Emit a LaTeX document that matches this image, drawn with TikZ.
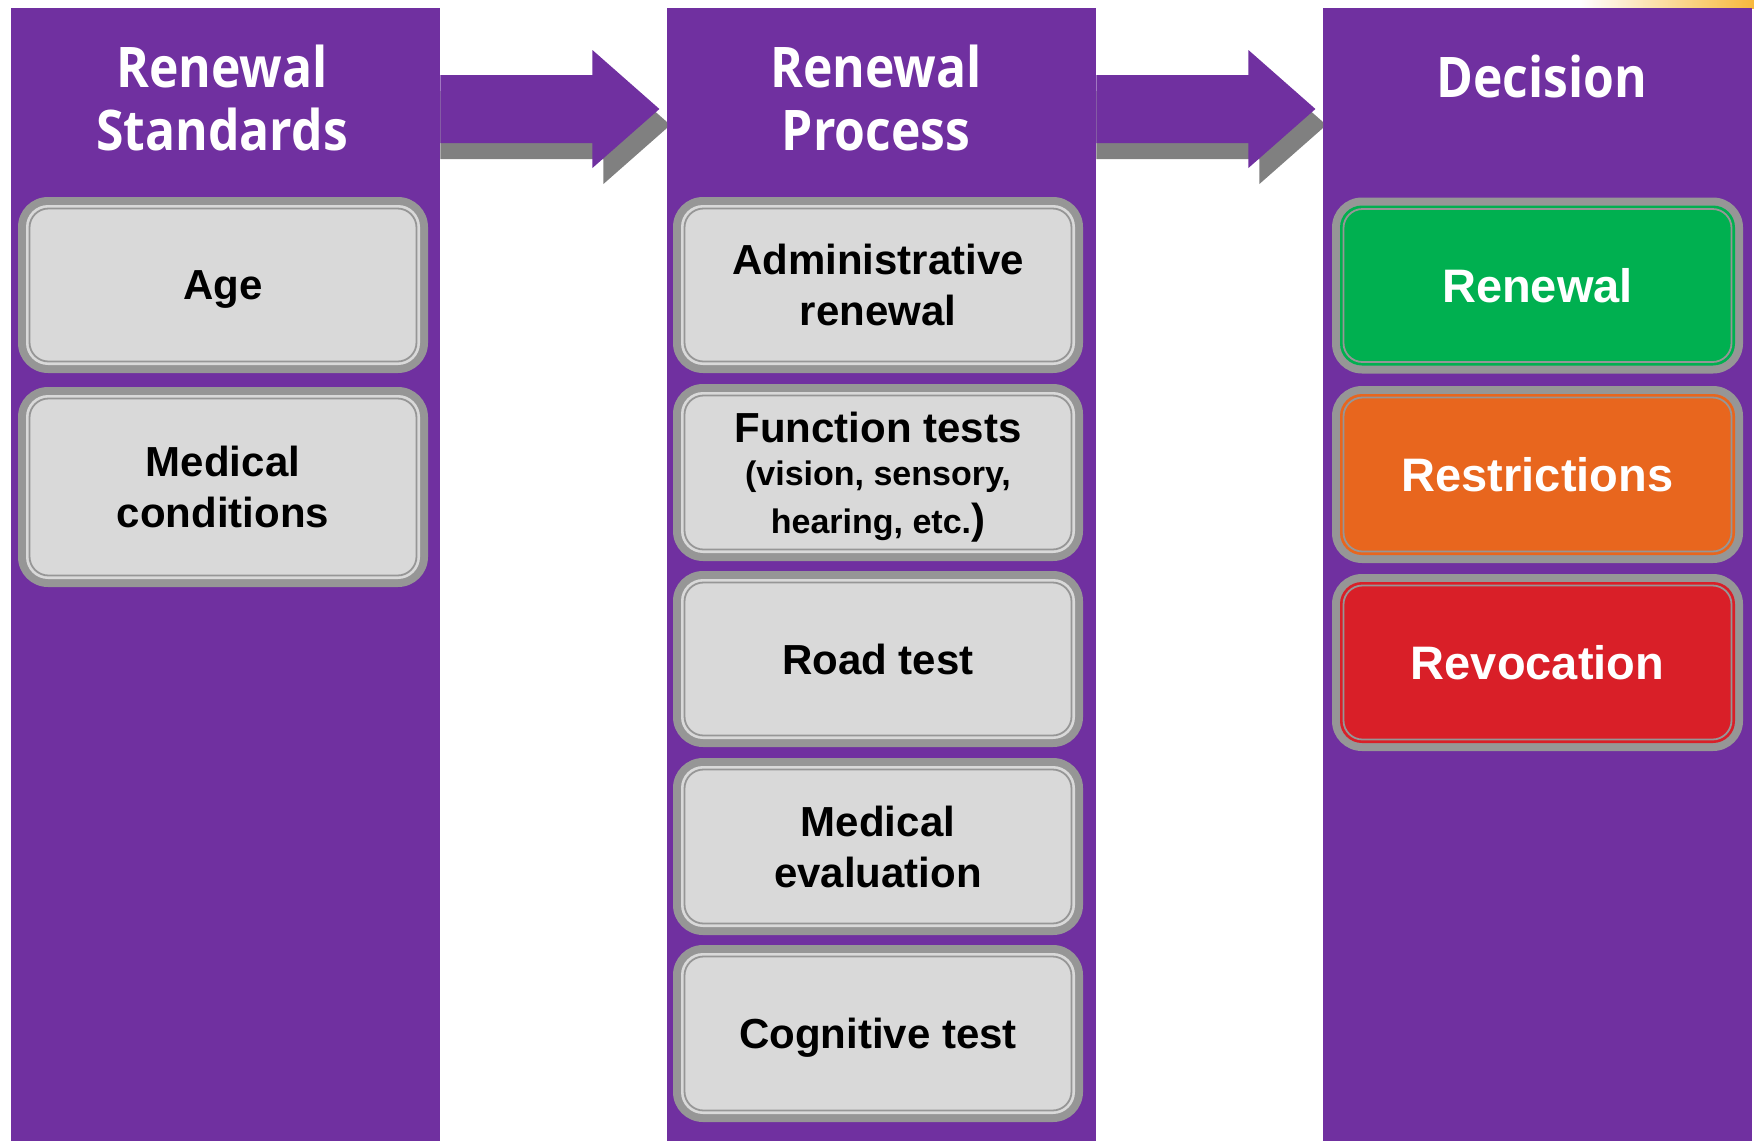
\documentclass[tikz,border=0pt]{standalone}
\usepackage{fontspec}
\setmainfont{Liberation Sans}
\newfontfamily\hdfont{Open Sans}[FakeStretch=0.89]
\usetikzlibrary{calc}
\definecolor{purp}{HTML}{7030A0}
\definecolor{gband}{HTML}{969696}
\definecolor{lfill}{HTML}{D9D9D9}
\definecolor{gfill}{HTML}{00B050}
\definecolor{ofill}{HTML}{E8661E}
\definecolor{rfill}{HTML}{D91F28}
\definecolor{shad}{HTML}{808080}
\definecolor{glow}{HTML}{F8B83C}
\begin{document}
\begin{tikzpicture}[x=1pt,y=-1pt,
  column/.style={fill=purp, minimum width=429pt, minimum height=1133pt, inner sep=0pt, draw=none, anchor=north west},
  hd/.style={font=\hdfont\bfseries\fontsize{56}{63}\selectfont, text=white, align=center, text depth=0pt, inner sep=0pt},
  tile/.style={rounded corners=30pt, fill=gband, minimum width=410pt, inner sep=0pt, align=center, text depth=0pt,
     font=\bfseries\fontsize{42}{51}\selectfont,
     path picture={
       \fill[#1, rounded corners=22pt] ([shift={(8pt,-8pt)}]path picture bounding box.north west) rectangle ([shift={(-8pt,8pt)}]path picture bounding box.south east);
       \draw[gband, line width=1.8pt, rounded corners=19pt] ([shift={(11.5pt,-11.5pt)}]path picture bounding box.north west) rectangle ([shift={(-11.5pt,11.5pt)}]path picture bounding box.south east);
     }},
  dtile/.style={tile=#1, text=white, font=\bfseries\fontsize{47}{56}\selectfont},
  barrow/.style={fill=purp},
  bshadow/.style={fill=shad}
]
\useasboundingbox (0,0) rectangle (1754,1141);
\fill[white] (0,0) rectangle (1754,1141);
\shade[left color=white, right color=glow] (1580,0) rectangle (1754,8);

% columns
\node[column] (c1) at (11,8) {};
\node[column] (c2) at (667,8) {};
\node[column] (c3) at (1323,8) {};

% block arrows between columns
\foreach \a/\b in {c1/c2, c2/c3}{
  \begin{scope}
    \clip (\a.north east) rectangle (\b.south west);
    \fill[bshadow] ($(\a.north east)+(-2,83)$) -- ($(\a.north east)+(163,83)$) -- ($(\a.north east)+(163,58)$)
      -- ($(\a.north east)+(230,117)$) -- ($(\a.north east)+(163,176)$) -- ($(\a.north east)+(163,151)$)
      -- ($(\a.north east)+(-2,151)$) -- cycle;
    \fill[barrow] ($(\a.north east)+(-2,67)$) -- ($(\a.north east)+(152,67)$) -- ($(\a.north east)+(152,42)$)
      -- ($(\a.north east)+(219,101)$) -- ($(\a.north east)+(152,160)$) -- ($(\a.north east)+(152,135)$)
      -- ($(\a.north east)+(-2,135)$) -- cycle;
  \end{scope}
}

% headers
\node[hd] (h1) at (222,98) {Renewal\\Standards};
\node[hd] (h2) at (876,98) {Renewal\\Process};
\node[hd] (h3) at (1542,76) {Decision};

% left column
\node[tile=lfill, minimum height=176pt] (age) at (223,285) {Age};
\node[tile=lfill, minimum height=200pt] (medc) at (223,487) {Medical\\conditions};

% middle column
\node[tile=lfill, minimum height=176pt] (admin) at (878,285) {Administrative\\renewal};
\node[tile=lfill, minimum height=177pt, font=\bfseries\fontsize{42}{46}\selectfont] (func) at (878,472.5)
  {Function tests\\[-3pt]\fontsize{34}{40}\selectfont(vision, sensory,\\[2pt]\fontsize{34}{40}\selectfont hearing, etc.\fontsize{42}{46}\selectfont)};
\node[tile=lfill, minimum height=176pt] (road) at (878,659) {Road test};
\node[tile=lfill, minimum height=177pt] (meval) at (878,846.5) {Medical\\evaluation};
\node[tile=lfill, minimum height=177pt] (cog) at (878,1033.5) {Cognitive test};

% right column
\node[dtile=gfill, minimum width=411pt, minimum height=176pt] (ren) at (1537.5,285.5) {Renewal};
\node[dtile=ofill, minimum width=411pt, minimum height=177pt] (res) at (1537.5,474.5) {Restrictions};
\node[dtile=rfill, minimum width=411pt, minimum height=177pt] (rev) at (1537.5,662.5) {Revocation};
\end{tikzpicture}
\end{document}
